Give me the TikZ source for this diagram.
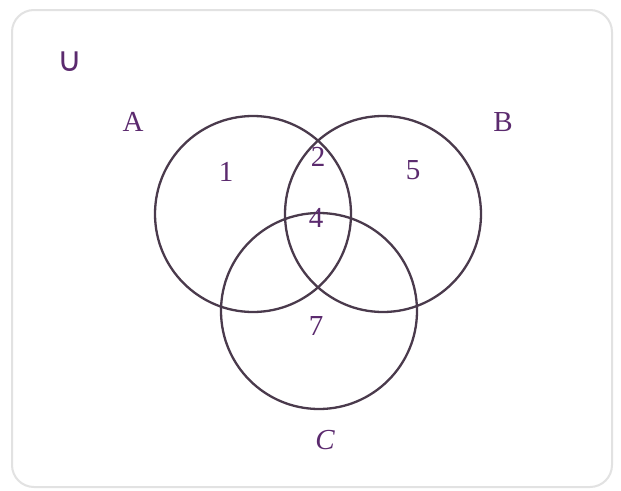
\documentclass[tikz,border=0pt]{standalone}
\usepackage{fontspec}
\setmainfont{Liberation Serif}
\newfontfamily\symfont{DejaVu Sans}
\definecolor{txt}{HTML}{5B2A6E}
\definecolor{ring}{HTML}{4A3A4C}
\definecolor{frame}{HTML}{E2E2E2}
\begin{document}
\begin{tikzpicture}[x=1pt,y=-1pt,
  lab/.style={text=txt,font=\fontsize{29}{32}\selectfont,inner sep=0pt},
  setc/.style={draw=ring,line width=2.3pt}]
\useasboundingbox (0,0) rectangle (621,490);
\fill[white] (0,0) rectangle (621,490);
\draw[frame,line width=2pt,rounded corners=22pt] (12,10) rectangle (612,487);
\draw[setc] (253,214) circle (98);
\draw[setc] (383,214) circle (98);
\draw[setc] (319,311) circle (98);
\node[lab] (u) at (70,62) {{\symfont\fontsize{34}{36}\selectfont ∪}};
\node[lab] (a) at (133,122) {A};
\node[lab] (b) at (503,122) {B};
\node[lab] (c) at (325,440) {\itshape C};
\node[lab] (n1) at (226,172) {1};
\node[lab] (n2) at (318,157) {2};
\node[lab] (n5) at (413,170) {5};
\node[lab] (n4) at (316,218) {4};
\node[lab] (n7) at (316,326) {7};
\end{tikzpicture}
\end{document}
